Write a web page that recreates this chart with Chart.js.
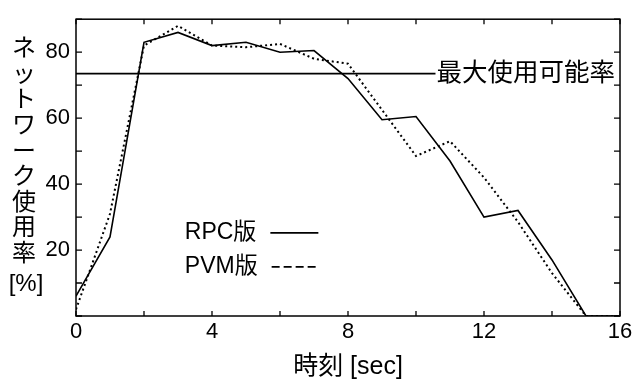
<!DOCTYPE html>
<html>
<head>
<meta charset="utf-8">
<script src="https://cdn.jsdelivr.net/npm/chart.js@4/dist/chart.umd.min.js"></script>
<style>
  body { margin: 0; background: #fff; }
  #wrap { width: 637px; height: 385px; }
</style>
</head>
<body>
<div id="wrap"><canvas id="netChart" width="637" height="385"></canvas></div>
<script>
// time [sec]
const times = [0, 1, 2, 3, 4, 5, 6, 7, 8, 9, 10, 11, 12, 13, 14, 15, 16];
// network usage [%]
const rpcValues = [6, 24, 83, 86, 82, 83, 80, 80.5, 72, 59.5, 60.5, 47, 30, 32, 17, 0, 0];
const pvmValues = [2, 31, 82, 88, 82, 81.5, 82.5, 78, 76.5, 62.5, 48.5, 53, 42, 28.5, 13, 0, 0];
const maxRate = 73.5;
const maxRateLabel = '最大使用可能率';
const seriesNames = ['RPC版', 'PVM版'];
const yTitleChars = ['ネ', 'ッ', 'ト', 'ワ', 'ー', 'ク', '使', '用', '率'];
const yTitleUnit = '[%]';
const xTitle = '時刻 [sec]';

const latin = '"Liberation Sans", Arial, sans-serif';
const cjk = '"Liberation Sans", "Noto Sans CJK JP", sans-serif';

const toPoints = (vals) => times.map((t, i) => ({ x: t, y: vals[i] }));

// frame, inward ticks, threshold line, legend and vertical y title
const decorations = {
    id: 'decorations',
    afterDraw(chart) {
        const ctx = chart.ctx;
        const area = chart.chartArea;
        const xs = chart.scales.x;
        const ys = chart.scales.y;
        ctx.save();
        ctx.strokeStyle = '#000';
        ctx.fillStyle = '#000';

        ctx.lineWidth = 1.5;
        ctx.strokeRect(area.left, area.top, area.right - area.left, area.bottom - area.top);

        ctx.lineWidth = 1.3;
        ctx.beginPath();
        for (let v = 0; v <= 16; v += 2) {
            const px = xs.getPixelForValue(v);
            ctx.moveTo(px, area.bottom); ctx.lineTo(px, area.bottom - 5);
            ctx.moveTo(px, area.top); ctx.lineTo(px, area.top + 5);
        }
        for (let v = 0; v <= 90; v += 10) {
            const py = ys.getPixelForValue(v);
            ctx.moveTo(area.left, py); ctx.lineTo(area.left + 6, py);
            ctx.moveTo(area.right, py); ctx.lineTo(area.right - 6, py);
        }
        ctx.stroke();

        // max usable rate line + label
        ctx.font = '25.5px ' + cjk;
        ctx.textBaseline = 'middle';
        const labelW = ctx.measureText(maxRateLabel).width;
        const labelX = area.right - 5 - labelW;
        const my = ys.getPixelForValue(maxRate);
        ctx.lineWidth = 1.6;
        ctx.beginPath();
        ctx.moveTo(area.left, my);
        ctx.lineTo(labelX - 1, my);
        ctx.stroke();
        ctx.fillText(maxRateLabel, labelX, my);

        // legend: text then line sample
        ctx.font = '23px ' + cjk;
        const lx = area.left + (area.right - area.left) * 0.2;
        const ly = area.top + (area.bottom - area.top) * 0.72;
        const dashes = [[], [8, 4]];
        seriesNames.forEach((name, i) => {
            const y = ly + i * 34;
            ctx.fillText(name, lx, y);
            const w = ctx.measureText(name).width;
            ctx.setLineDash(dashes[i]);
            ctx.lineWidth = 1.6;
            ctx.beginPath();
            ctx.moveTo(lx + w + 14, y);
            ctx.lineTo(lx + w + 62, y);
            ctx.stroke();
        });
        ctx.setLineDash([]);

        // vertical y title
        ctx.textAlign = 'center';
        ctx.font = '24px "Noto Sans CJK JP", sans-serif';
        yTitleChars.forEach((ch, i) => {
            ctx.fillText(ch, 24, 47 + i * 25.6);
        });
        ctx.font = '24px ' + latin;
        ctx.fillText(yTitleUnit, 26, 284);
        ctx.restore();
    }
};

new Chart(document.getElementById('netChart').getContext('2d'), {
    type: 'line',
    data: {
        datasets: [{
            label: seriesNames[0],
            data: toPoints(rpcValues),
            borderColor: '#000',
            borderWidth: 1.6,
            pointRadius: 0,
            tension: 0
        }, {
            label: seriesNames[1],
            data: toPoints(pvmValues),
            borderColor: '#000',
            borderWidth: 2,
            borderDash: [2, 3],
            pointRadius: 0,
            tension: 0
        }]
    },
    options: {
        responsive: false,
        animation: false,
        layout: { padding: { top: 8, right: 17, bottom: 0, left: 0 } },
        plugins: { legend: { display: false }, tooltip: { enabled: false } },
        scales: {
            x: {
                type: 'linear',
                min: 0,
                max: 16,
                afterFit: (scale) => { scale.height = 69; },
                grid: { display: false, drawTicks: false },
                border: { display: false },
                ticks: {
                    stepSize: 2,
                    autoSkip: false,
                    maxRotation: 0,
                    padding: 3,
                    color: '#000',
                    font: { family: latin, size: 22 },
                    callback: (v) => (v % 4 === 0 ? v : '')
                },
                title: {
                    display: true,
                    text: xTitle,
                    color: '#000',
                    font: { family: cjk, size: 25 },
                    padding: { top: 0, bottom: 3 }
                }
            },
            y: {
                min: 0,
                max: 90,
                afterFit: (scale) => { scale.width = 76; },
                grid: { display: false, drawTicks: false },
                border: { display: false },
                ticks: {
                    stepSize: 10,
                    padding: 6,
                    color: '#000',
                    font: { family: latin, size: 22 },
                    callback: (v) => (v % 20 === 0 && v > 0 && v < 90 ? v : '')
                }
            }
        }
    },
    plugins: [decorations]
});
</script>
</body>
</html>
